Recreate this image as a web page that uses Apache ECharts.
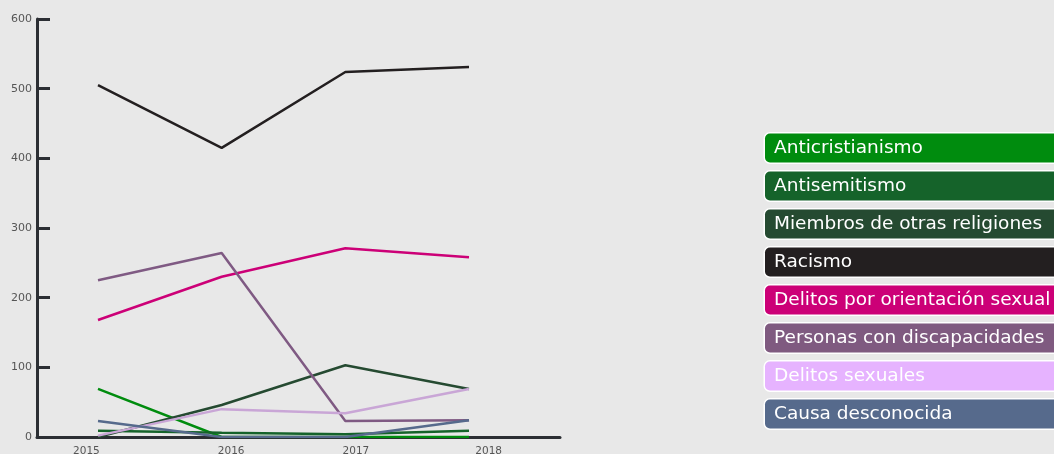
<!DOCTYPE html>
<html>
<head>
<meta charset="utf-8">
<script src="https://cdn.jsdelivr.net/npm/echarts@6/dist/echarts.min.js"></script>
<style>
  html, body { margin: 0; padding: 0; background: #e8e8e8; }
  #main { width: 1054px; height: 454px; }
</style>
</head>
<body>
<div id="main"></div>
<script>
const years = ['2015', '2016', '2017', '2018'];
const yTicks = [0, 100, 200, 300, 400, 500, 600];

const seriesNames = [
  'Anticristianismo',
  'Antisemitismo',
  'Miembros de otras religiones',
  'Racismo',
  'Delitos por orientación sexual',
  'Personas con discapacidades',
  'Delitos sexuales',
  'Causa desconocida'
];

const anticristianismo = [69, 0, 0, 0];
const antisemitismo = [9, 6, 4, 9];
const otrasReligiones = [0, 46, 103, 69];
const racismo = [505, 415, 524, 531];
const orientacionSexual = [168, 230, 271, 258];
const discapacidades = [225, 264, 23, 24];
const delitosSexuales = [2, 40, 34, 69];
const causaDesconocida = [23, 0, 0, 24];

const lineColors = ['#008c0e', '#15632a', '#254a31', '#231f20', '#cc0077', '#7f5a83', '#c9a6d6', '#566a8c'];
const legendColors = ['#008c0e', '#15632a', '#254a31', '#231f20', '#cc0077', '#7f5a80', '#e6b3ff', '#566a8c'];

// small nudges to put the year labels where the original has them
const labelShift = [-16, -2, -8, -6];

function renderChart() {
  const chart = echarts.init(document.getElementById('main'));
  const allValues = [anticristianismo, antisemitismo, otrasReligiones, racismo,
    orientacionSexual, discapacidades, delitosSexuales, causaDesconocida];

  const rich = {};
  labelShift.forEach((s, i) => {
    rich['l' + i] = {
      fontFamily: 'DejaVu Sans', fontSize: 10.5, color: '#555',
      padding: s < 0 ? [0, -2 * s, 0, 0] : [0, 0, 0, 2 * s]
    };
  });

  const option = {
    backgroundColor: '#e8e8e8',
    animation: false,
    grid: [
      { left: 37, right: 494, top: 19, bottom: 17, outerBoundsMode: 'none', containLabel: false },
      { left: 98, right: 585, top: 19, bottom: 17, outerBoundsMode: 'none', containLabel: false }
    ],
    xAxis: [
      {
        type: 'category', gridIndex: 0, data: years, boundaryGap: true,
        axisLine: { lineStyle: { color: '#2b2e33', width: 3 } },
        axisTick: { inside: true, length: 9, lineStyle: { color: '#2b2e33', width: 3 } },
        axisLabel: {
          margin: 9,
          formatter: (v, i) => `{l${i}|${v}}`,
          rich: rich
        }
      },
      {
        type: 'category', gridIndex: 1, data: years, boundaryGap: false, show: false
      }
    ],
    yAxis: [
      {
        type: 'value', gridIndex: 0, min: yTicks[0], max: yTicks[yTicks.length - 1], interval: 100,
        splitLine: { show: false },
        axisLine: { show: true, lineStyle: { color: '#2b2e33', width: 3 } },
        axisTick: { show: true, inside: true, length: 13, lineStyle: { color: '#2b2e33', width: 3 } },
        axisLabel: { margin: 5, fontFamily: 'DejaVu Sans', fontSize: 11, color: '#555' }
      },
      {
        type: 'value', gridIndex: 1, min: 0, max: 600, show: false
      }
    ],
    legend: {
      orient: 'vertical',
      left: 754,
      top: 127,
      height: 330,
      itemGap: 6,
      itemWidth: 0,
      itemHeight: 0,
      selectedMode: false,
      textStyle: {
        fontFamily: 'DejaVu Sans',
        fontSize: 18.5,
        color: '#fff',
        lineHeight: 22,
        padding: [7, 9, 0, 9],
        width: 300,
        borderRadius: 5,
        borderColor: '#fff',
        borderWidth: 1.5
      },
      data: seriesNames.map((n, i) => ({
        name: n,
        textStyle: { backgroundColor: legendColors[i] }
      }))
    },
    series: seriesNames.map((n, i) => ({
      name: n,
      type: 'line',
      xAxisIndex: 1,
      yAxisIndex: 1,
      data: allValues[i],
      symbol: 'none',
      lineStyle: { color: lineColors[i], width: 2.5 },
      itemStyle: { color: lineColors[i] }
    }))
  };

  chart.setOption(option);
}

window.onload = renderChart;
</script>
</body>
</html>
